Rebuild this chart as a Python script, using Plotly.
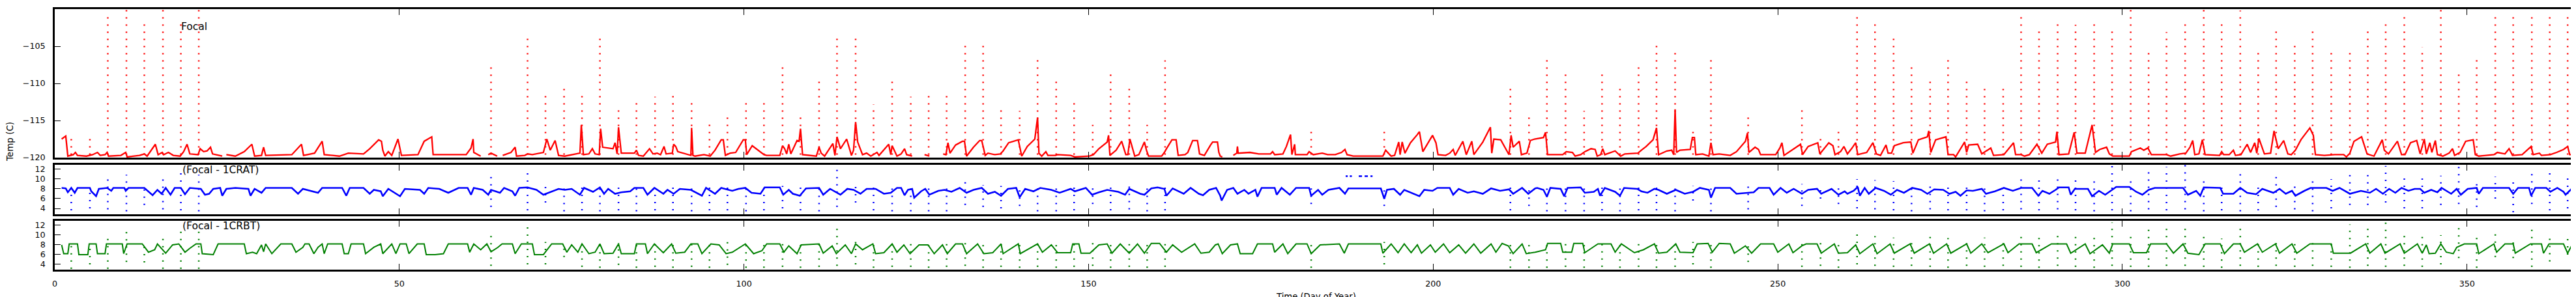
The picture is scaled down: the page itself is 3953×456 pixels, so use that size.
import plotly.graph_objects as go
from plotly.subplots import make_subplots

# Focal plane temperature (day of year, deg C)
red_readings = [
    (1.0, -117.5), (1.6, -117.1), (1.9, -119.8), (2.7, -119.6), (3.0, -119.3), (3.3, -119.7), (4.6, -119.8),
    (5.5, -119.6), (6.2, -119.3), (6.6, -119.7), (7.3, -119.6), (7.6, -119.3), (7.8, -119.8), (9.6, -119.7),
    (10.3, -119.3), (10.5, -119.9), (12.3, -119.7), (13.0, -119.5), (13.4, -119.8), (14.6, -118.2), (15.0, -119.6),
    (15.6, -119.3), (15.8, -119.6), (16.5, -119.3), (17.2, -119.7), (18.2, -119.8), (18.7, -119.2), (19.2, -118.2),
    (19.6, -119.5), (20.8, -119.6), (21.1, -118.8), (21.6, -119.2), (22.1, -119.1), (22.6, -118.6), (22.9, -119.5),
    (24.3, -119.8), (24.6, None), (24.9, -119.6), (26.2, -119.8), (27.5, -119.2), (28.6, -118.2), (29.0, -119.8),
    (30.0, -119.7), (30.3, -118.6), (30.6, -119.7), (34.4, -119.6), (35.8, -118.2), (36.1, -119.7), (37.7, -119.4),
    (38.8, -117.8), (39.1, -119.6), (41.3, -119.8), (42.6, -119.4), (44.8, -119.5), (45.7, -118.8), (47.0, -117.6),
    (47.4, -117.8), (47.6, -119.0), (47.9, -119.8), (48.4, -119.2), (48.9, -119.7), (49.8, -117.5), (50.3, -119.7),
    (52.7, -119.6), (53.6, -117.8), (54.7, -117.2), (54.9, -119.6), (57.1, -119.6), (59.7, -119.6), (60.4, -118.7),
    (60.7, -117.5), (60.8, -119.3), (61.8, -119.8), (62.3, None), (62.9, -119.6), (63.3, -119.4), (64.2, -119.8),
    (64.6, None), (65.0, -119.7), (66.2, -119.3), (66.8, -118.6), (67.0, -119.8), (68.2, -119.7), (68.6, -119.5),
    (69.3, -119.6), (70.9, -119.3), (71.4, -117.5), (71.9, -119.0), (72.6, -117.7), (73.1, -119.7), (74.0, -119.8),
    (75.0, -119.6), (76.2, -119.4), (76.4, -115.6), (76.7, -119.6), (77.5, -119.5), (78.0, -118.8), (78.4, -119.5),
    (79.0, -119.6), (79.2, -116.1), (79.5, -118.6), (81.0, -118.8), (81.3, -118.0), (81.6, -119.5), (81.8, -115.9),
    (82.2, -119.4), (84.1, -119.4), (84.4, -119.0), (84.7, -119.7), (85.4, -119.8), (86.3, -118.8), (86.8, -119.5),
    (87.4, -119.4), (87.9, -119.6), (88.4, -118.5), (88.7, -119.5), (89.6, -119.4), (89.8, -118.2), (90.1, -118.5),
    (90.4, -119.2), (91.2, -119.4), (92.3, -119.7), (92.4, -116.0), (92.6, -119.7), (92.9, -119.8), (94.2, -119.6),
    (95.1, -119.8), (95.8, -119.0), (96.7, -117.6), (97.0, -117.6), (97.3, -119.7), (98.0, -119.4), (98.8, -119.3),
    (99.9, -117.6), (100.2, -117.6), (100.4, -119.6), (101.2, -118.4), (102.4, -119.3), (102.9, -119.6), (103.3, -119.7),
    (105.2, -119.7), (105.6, -118.4), (105.9, -118.8), (106.2, -119.5), (106.5, -118.2), (106.8, -119.5), (107.7, -117.7),
    (108.0, -117.8), (108.2, -116.1), (108.5, -119.6), (110.5, -119.8), (110.9, -118.6), (111.2, -119.4), (111.7, -119.8),
    (112.9, -118.1), (113.2, -119.7), (113.5, -117.2), (114.0, -118.8), (114.9, -117.5), (115.6, -119.7), (115.9, -119.0),
    (116.2, -115.2), (116.5, -117.9), (117.2, -119.6), (117.8, -119.4), (118.4, -119.8), (119.3, -119.3), (119.6, -119.7),
    (121.0, -118.2), (121.3, -119.6), (121.5, -118.4), (122.2, -119.8), (122.8, -119.5), (123.3, -118.8), (123.6, -119.6),
    (124.4, -119.8), (125.0, None), (126.2, -119.6), (126.9, -119.8), (127.5, None), (128.9, -119.5), (129.3, -119.6),
    (129.6, -118.0), (129.9, -119.4), (130.7, -118.3), (131.7, -117.8), (132.0, -117.8), (132.3, -119.8), (133.3, -118.6),
    (134.2, -117.7), (134.5, -117.7), (135.0, -119.7), (135.4, -119.4), (136.4, -119.6), (137.2, -119.5), (137.6, -119.1),
    (138.4, -118.0), (139.8, -117.6), (140.3, -119.8), (141.1, -118.5), (142.2, -117.5), (142.6, -114.6), (142.8, -119.4),
    (143.2, -119.8), (143.8, -119.2), (144.1, -119.7), (145.2, -119.7), (145.5, -119.6), (147.4, -119.7), (148.0, -119.9),
    (150.1, -119.8), (150.7, -119.6), (151.5, -118.8), (152.7, -117.9), (152.9, -117.0), (153.1, -119.7), (154.0, -119.0),
    (154.8, -117.8), (155.4, -119.6), (155.7, -119.6), (156.0, -117.5), (156.5, -119.2), (156.7, -119.8), (157.3, -119.6),
    (158.1, -117.9), (158.4, -119.0), (158.7, -119.8), (160.6, -119.8), (161.0, -119.3), (161.3, -118.8), (162.1, -117.6),
    (162.7, -117.6), (163.0, -119.7), (164.0, -119.6), (164.4, -119.3), (165.1, -117.7), (165.8, -117.7), (166.1, -119.5),
    (166.8, -119.7), (167.7, -118.3), (168.0, -117.9), (168.7, -117.9), (168.9, -119.3), (169.1, -119.8), (169.4, -119.9),
    (170.2, None), (171.0, -119.7), (171.5, -119.4), (171.6, -118.5), (171.7, -119.4), (173.4, -119.3), (174.7, -119.5),
    (176.4, -119.5), (176.7, -119.2), (177.0, -119.6), (178.2, -119.5), (178.7, -118.5), (179.3, -116.9), (179.5, -119.6),
    (179.9, -118.2), (180.0, -119.6), (181.7, -119.6), (182.0, -119.2), (182.6, -119.6), (183.9, -119.4), (184.7, -119.6),
    (185.8, -119.6), (186.7, -119.3), (187.2, -118.9), (187.5, -119.6), (188.4, -119.8), (192.7, -119.8), (193.1, -119.0),
    (193.9, -119.8), (194.4, -119.7), (195.0, -117.9), (195.2, -119.6), (195.5, -117.9), (195.9, -119.4), (196.7, -118.0),
    (197.7, -116.9), (198.0, -116.5), (198.5, -119.2), (198.9, -118.6), (199.9, -117.0), (200.4, -118.0), (200.7, -119.6),
    (201.8, -119.7), (202.4, -119.4), (202.9, -118.9), (203.2, -119.7), (204.3, -117.8), (204.8, -119.6), (205.6, -117.8),
    (205.9, -119.6), (207.2, -117.9), (208.3, -115.9), (208.5, -119.4), (208.8, -117.5), (209.8, -117.6), (210.2, -118.3),
    (211.0, -119.6), (211.3, -117.0), (211.6, -118.6), (212.5, -117.8), (212.8, -119.6), (213.6, -119.4), (214.1, -117.7),
    (214.7, -117.5), (216.0, -117.3), (216.3, -116.6), (216.6, -119.6), (218.8, -119.6), (219.3, -119.2), (220.2, -119.3),
    (220.6, -119.8), (221.4, -119.6), (222.0, -119.2), (222.9, -118.8), (223.5, -118.9), (223.8, -119.8), (224.3, -119.6),
    (224.6, -118.8), (224.9, -119.6), (226.4, -119.1), (227.2, -119.8), (227.8, -119.5), (229.7, -119.4), (230.2, -119.0),
    (230.9, -118.5), (231.9, -117.6), (232.4, -116.0), (232.7, -119.6), (233.9, -119.1), (234.6, -119.0), (234.9, -119.6),
    (235.1, -113.5), (235.3, -119.3), (235.8, -119.0), (237.3, -118.9), (237.6, -117.3), (237.9, -117.3), (238.1, -119.6),
    (239.1, -119.5), (240.0, -119.8), (240.3, -118.0), (240.6, -119.6), (241.5, -119.5), (243.1, -119.7), (244.0, -119.2),
    (245.3, -117.8), (245.6, -116.7), (245.8, -119.3), (246.7, -118.6), (247.2, -118.9), (247.5, -119.6), (249.7, -119.6),
    (250.3, -118.7), (250.6, -118.0), (250.9, -119.7), (252.5, -118.7), (253.3, -118.2), (253.6, -119.6), (254.4, -118.5),
    (255.8, -118.0), (256.1, -119.5), (257.4, -118.0), (258.0, -118.4), (258.3, -119.6), (259.1, -119.2), (259.6, -118.5),
    (260.1, -119.5), (260.7, -118.8), (261.3, -118.0), (261.6, -119.6), (262.9, -119.3), (263.8, -118.0), (264.3, -119.5),
    (264.9, -119.7), (265.7, -118.3), (266.0, -119.4), (266.5, -119.4), (266.9, -118.4), (268.2, -118.0), (269.3, -117.9),
    (269.6, -119.4), (270.4, -117.6), (271.7, -117.2), (271.9, -116.4), (272.2, -119.3), (272.9, -117.6), (274.4, -117.2),
    (274.7, -119.6), (275.5, -119.6), (275.8, -119.9), (277.1, -117.9), (277.4, -119.3), (277.7, -118.3), (279.0, -118.2),
    (279.6, -119.5), (280.9, -118.7), (281.3, -119.7), (282.8, -119.6), (284.2, -118.0), (284.5, -119.6), (285.3, -119.6),
    (285.8, -119.8), (286.5, -119.6), (287.6, -118.2), (288.3, -119.4), (289.1, -118.2), (290.3, -117.9), (290.5, -116.5),
    (290.8, -119.6), (292.2, -119.5), (293.0, -116.6), (293.4, -119.4), (294.6, -119.4), (295.6, -115.6), (296.1, -119.3),
    (296.7, -118.9), (297.7, -118.6), (298.1, -119.5), (298.6, -119.8), (301.0, -119.8), (301.3, -119.2), (302.6, -118.7),
    (303.1, -119.0), (303.7, -118.7), (304.2, -119.6), (306.4, -119.6), (307.0, -119.8), (308.3, -119.5), (309.2, -119.4),
    (309.8, -118.6), (310.2, -117.7), (310.5, -119.6), (311.1, -119.5), (311.6, -117.6), (312.0, -119.6), (314.1, -119.7),
    (314.4, -119.2), (314.7, -119.6), (315.5, -119.6), (316.1, -119.0), (316.4, -119.7), (317.2, -119.6), (318.1, -118.2),
    (318.6, -119.3), (319.2, -118.0), (319.5, -119.4), (319.8, -117.4), (320.6, -119.5), (321.5, -119.4), (322.0, -116.4),
    (322.6, -118.8), (323.4, -117.7), (324.0, -119.5), (324.5, -119.6), (325.1, -119.0), (325.9, -117.6), (327.2, -116.0),
    (327.7, -117.0), (328.0, -119.6), (329.3, -119.7), (330.8, -119.6), (332.1, -119.6), (332.5, -119.9), (333.0, -119.4),
    (333.6, -117.8), (334.7, -117.2), (335.5, -119.5), (336.5, -119.8), (337.7, -117.6), (338.0, -119.0), (338.6, -119.5),
    (339.9, -117.8), (340.5, -119.6), (341.0, -119.6), (341.8, -118.0), (342.7, -117.7), (343.2, -119.5), (343.8, -117.5),
    (344.1, -119.5), (344.6, -118.0), (344.9, -119.3), (345.4, -117.7), (345.7, -119.6), (346.5, -119.8), (347.4, -119.4),
    (347.9, -118.8), (348.2, -119.7), (349.0, -119.3), (349.8, -117.8), (350.9, -117.6), (351.2, -119.6), (351.7, -119.8),
    (353.9, -119.6), (354.4, -119.3), (355.5, -119.5), (356.1, -118.8), (356.6, -119.7), (358.0, -119.6), (359.3, -118.5),
    (359.6, -119.6), (360.5, -119.4), (360.8, -119.7), (362.1, -119.6), (363.0, -119.3), (364.0, -118.9), (364.6, -118.5),
    (364.9, -119.6), (365.8, -119.6),
]

# warm-up events: day and peak focal temperature
spike_days = [
    2.4, 5.1, 7.7, 10.4, 13.0, 15.7, 18.3, 20.9, 63.3, 68.6, 71.2, 73.9,
    76.5, 79.1, 81.8, 84.4, 87.1, 89.7, 92.4, 95.0, 97.6, 100.3, 102.9, 105.6, 108.2, 110.9, 113.5, 116.2, 118.8, 121.5,
    124.2, 126.8, 129.4, 132.1, 134.7, 137.3, 140.0, 142.6, 145.3, 147.9, 150.6, 153.2, 155.9, 158.5, 161.1,
    182.3, 192.9, 211.2, 213.9,
    216.5, 219.2, 221.9, 224.5, 227.1, 229.8, 232.4, 235.1, 237.7, 240.3, 245.7, 253.5, 256.2, 258.8,
    261.5, 264.1, 266.8, 269.4, 272.1, 274.7, 277.4, 280.0, 282.7, 285.3, 287.9, 290.6, 293.2, 295.9, 298.5, 301.2, 303.8, 306.4,
    309.1, 311.8, 314.4, 317.1, 319.7, 322.3, 325.0, 327.6, 330.3, 333.0, 335.6, 338.2, 340.9, 343.5,
    346.2, 348.8, 351.4, 354.1, 356.7, 359.4, 362.0, 364.6,
]
spike_peaks = [
    -116.9, -117.5, -101.1, -100.0, -102.0, -100.0, -102.0, -100.0, -107.4, -103.4, -111.7, -110.6,
    -111.5, -103.4, -113.0, -112.0, -111.8, -111.1, -112.3, -114.9, -114.3, -112.3, -112.0, -107.8, -114.3, -109.6, -103.9, -103.8, -112.8, -109.7,
    -111.8, -111.5, -111.7, -104.9, -104.7, -113.3, -113.7, -106.5, -109.0, -111.9, -115.6, -108.2, -110.3, -115.6, -106.9,
    -116.3, -116.0, -110.7, -114.4,
    -106.6, -108.2, -113.7, -108.2, -110.3, -107.6, -104.6, -105.9, -116.3, -106.8, -114.1, -113.0, -117.2, -116.3,
    -100.6, -101.8, -103.6, -107.1, -109.0, -106.3, -109.1, -110.4, -110.2, -100.4, -102.6, -101.3, -102.1, -101.9, -102.6, -100.1, -105.2, -103.1,
    -102.0, -100.1, -101.4, -100.2, -105.2, -102.3, -104.4, -102.5, -105.7, -105.8, -102.3, -101.8, -100.3, -105.1,
    -100.0, -108.8, -106.8, -100.6, -100.6, -100.8, -101.1, -100.4,
]

# Focal - 1CRAT
blue_readings = [
    (1.0, 8.2), (1.6, 8.1), (1.9, 7.3), (2.4, 8.2), (2.9, 7.2), (3.3, 8.2), (5.1, 8.2), (5.3, 7.5), (6.0, 6.5), (6.4, 8.0),
    (7.6, 8.2), (8.2, 7.6), (8.5, 8.2), (10.1, 8.2), (10.3, 7.6), (10.7, 8.2), (13.0, 8.2), (13.6, 7.4), (14.2, 6.7),
    (14.9, 7.8), (15.5, 7.0), (16.1, 8.2), (16.8, 6.8), (17.4, 8.2), (18.3, 8.2), (18.9, 6.9), (19.6, 8.2), (21.2, 8.0),
    (21.8, 6.8), (22.4, 7.0), (23.0, 8.0), (24.0, 8.2), (24.3, 6.6), (24.9, 8.0), (26.2, 8.2), (28.1, 8.0), (28.4, 6.6),
    (29.0, 8.0), (30.0, 7.2), (30.6, 8.2), (34.4, 8.2), (35.3, 7.0), (36.0, 8.0), (38.2, 7.2), (38.8, 8.2), (41.7, 8.2),
    (42.3, 6.6), (42.8, 8.2), (44.8, 8.2), (45.7, 7.0), (46.3, 7.8), (47.3, 7.5), (47.6, 6.5), (48.4, 8.0), (49.5, 7.0),
    (50.1, 6.5), (50.8, 8.0), (53.0, 7.8), (53.6, 7.0), (54.2, 8.2), (55.8, 8.0), (57.1, 7.2), (58.6, 8.2), (59.9, 8.2),
    (60.4, 6.8), (60.8, 8.2), (62.1, 7.8), (62.9, 6.8), (63.3, 7.8), (64.6, 7.2), (65.2, 8.2), (66.4, 7.5), (66.8, 6.6),
    (67.4, 8.2), (68.6, 8.3), (69.9, 7.8), (70.9, 6.8), (72.1, 7.5), (73.1, 8.0), (74.0, 7.8), (75.0, 8.0), (76.2, 6.8),
    (76.8, 8.2), (78.1, 7.4), (79.1, 8.3), (79.7, 7.0), (80.3, 8.0), (81.3, 7.0), (82.2, 7.3), (83.5, 7.5), (84.1, 8.2),
    (85.4, 8.2), (86.0, 6.8), (87.0, 8.2), (88.3, 7.0), (88.9, 7.8), (89.8, 7.0), (90.7, 8.0), (92.3, 7.8), (93.9, 6.6),
    (94.5, 8.2), (95.8, 7.0), (96.7, 8.2), (98.3, 7.6), (99.2, 8.0), (100.2, 8.2), (101.1, 7.2), (102.4, 7.0), (103.0, 8.3),
    (105.2, 8.3), (105.7, 6.8), (106.5, 7.8), (107.1, 7.0), (108.1, 6.6), (109.0, 8.1), (110.9, 8.2), (111.5, 6.8),
    (112.5, 8.0), (114.0, 6.8), (115.0, 8.0), (115.9, 7.8), (116.9, 7.0), (117.8, 8.0), (119.1, 8.0), (120.3, 7.0),
    (121.3, 7.2), (122.2, 8.2), (122.8, 8.2), (123.3, 6.7), (123.8, 7.8), (124.4, 8.0), (124.7, 6.2), (125.7, 7.5),
    (126.3, 8.0), (126.9, 6.8), (128.2, 7.6), (129.1, 7.8), (130.1, 7.4), (131.3, 8.2), (132.3, 7.2), (133.3, 7.8),
    (134.5, 8.2), (135.4, 7.0), (136.4, 7.4), (137.3, 6.6), (138.3, 8.0), (139.5, 8.2), (140.0, 6.3), (140.8, 8.0),
    (142.0, 7.5), (143.0, 8.2), (144.6, 7.8), (145.8, 7.2), (147.4, 8.0), (148.0, 7.5), (149.6, 8.2), (150.5, 6.8),
    (151.5, 7.3), (152.7, 7.8), (154.3, 7.4), (155.3, 6.8), (155.9, 8.0), (157.5, 7.0), (158.1, 6.8), (159.1, 8.1),
    (160.0, 8.3), (161.0, 8.0), (161.3, 6.6), (162.2, 8.1), (163.8, 7.0), (164.8, 8.2), (166.0, 7.0), (166.6, 6.7),
    (167.5, 7.8), (168.5, 8.2), (169.1, 6.6), (169.3, 5.6), (170.1, 7.8), (171.0, 8.2), (171.6, 7.0), (172.6, 7.8),
    (173.2, 7.0), (174.2, 7.8), (174.5, 6.4), (175.1, 8.2), (177.0, 8.2), (177.3, 6.8), (178.0, 8.2), (179.2, 6.8),
    (180.1, 8.2), (182.0, 8.2), (182.3, 6.6), (183.3, 7.8), (183.9, 6.8), (184.8, 7.8), (186.4, 8.2), (187.2, 7.0),
    (187.7, 8.1), (192.4, 8.1), (192.9, 6.0), (193.3, 7.8), (194.3, 8.0), (195.2, 6.8), (195.8, 7.8), (196.8, 7.2),
    (198.0, 6.5), (198.7, 7.8), (199.9, 7.6), (200.6, 8.2), (202.4, 8.2), (202.9, 6.8), (203.7, 8.0), (205.0, 7.2),
    (205.9, 7.5), (207.2, 7.0), (208.4, 8.1), (209.7, 7.6), (211.0, 7.9), (211.6, 7.0), (212.9, 8.2), (213.8, 7.0),
    (214.8, 8.1), (215.1, 8.2), (216.0, 7.8), (216.5, 6.4), (217.0, 8.2), (218.5, 8.0), (219.0, 6.5), (219.5, 8.2),
    (221.4, 8.3), (222.0, 7.2), (223.3, 7.4), (223.9, 8.0), (224.2, 6.6), (224.9, 8.2), (226.4, 7.4), (227.1, 6.6),
    (227.7, 8.2), (229.6, 8.0), (230.2, 7.5), (231.1, 7.2), (232.1, 8.0), (232.7, 7.8), (233.9, 7.0), (235.2, 7.8),
    (236.5, 7.0), (237.7, 7.4), (238.7, 8.2), (240.0, 7.8), (240.3, 6.2), (240.9, 8.2), (243.1, 8.2), (244.0, 7.0),
    (245.3, 7.2), (246.5, 7.3), (247.2, 8.2), (248.8, 8.2), (249.4, 6.8), (250.4, 8.2), (251.3, 7.2), (252.3, 8.0),
    (253.5, 7.0), (254.4, 7.8), (255.7, 8.0), (256.3, 7.0), (257.8, 8.0), (258.8, 6.8), (259.7, 7.5), (260.1, 7.0),
    (261.0, 7.6), (261.6, 8.4), (261.9, 6.6), (262.6, 8.2), (263.2, 7.0), (264.2, 8.2), (265.4, 7.6), (266.4, 6.8),
    (267.3, 7.8), (268.3, 7.2), (269.5, 8.2), (270.8, 7.8), (271.7, 7.0), (272.7, 7.9), (274.0, 7.8), (274.9, 7.0),
    (275.8, 7.4), (276.5, 6.6), (277.4, 7.7), (278.3, 7.6), (279.6, 8.0), (280.2, 7.0), (281.5, 7.5), (282.8, 8.2),
    (284.1, 7.6), (285.3, 8.2), (286.9, 8.2), (287.8, 6.6), (288.4, 7.6), (289.4, 7.0), (290.3, 7.8), (290.8, 8.3),
    (292.2, 8.3), (292.5, 6.8), (293.1, 8.0), (295.0, 8.0), (295.6, 6.5), (296.6, 7.6), (297.5, 6.8), (298.5, 7.8),
    (299.1, 8.4), (301.0, 8.4), (302.0, 7.4), (302.9, 6.8), (303.8, 7.8), (304.7, 8.2), (308.8, 8.2), (309.5, 6.8),
    (310.7, 7.6), (311.3, 6.6), (311.8, 8.3), (314.2, 8.2), (314.6, 7.0), (316.1, 7.0), (317.1, 8.2), (318.1, 7.2),
    (319.4, 6.9), (320.3, 8.0), (321.9, 7.2), (322.8, 8.0), (323.7, 7.0), (324.6, 7.6), (325.1, 6.6), (326.4, 7.6),
    (327.3, 8.2), (329.6, 8.2), (330.5, 7.6), (331.5, 8.2), (333.0, 7.0), (334.6, 7.6), (335.9, 7.2), (336.8, 8.0),
    (337.8, 7.0), (338.7, 8.0), (339.6, 7.2), (340.5, 8.2), (341.5, 7.6), (342.4, 8.0), (343.2, 8.0), (343.8, 7.2),
    (344.8, 7.8), (345.7, 7.3), (346.3, 8.2), (347.7, 7.0), (348.5, 8.0), (349.1, 6.8), (350.1, 8.0), (351.4, 8.2),
    (351.7, 7.0), (352.3, 8.2), (356.1, 8.2), (356.7, 7.0), (357.4, 8.2), (359.0, 8.2), (359.3, 6.6), (359.9, 8.2),
    (361.5, 8.2), (362.1, 7.4), (363.1, 8.2), (364.0, 7.4), (364.3, 6.8), (365.3, 8.2), (365.9, 8.2),
]
blue_spike_low = [
    3.6, 4.0, 3.8, 3.4, 4.7, 3.8, 3.6, 3.4, 4.3, 3.6, 5.2, 3.4,
    3.6, 3.4, 3.6, 3.4, 3.6, 3.6, 3.4, 3.6, 3.6, 3.4, 3.6, 4.0, 3.6, 3.4, 4.3, 5.2, 3.6, 3.4,
    3.4, 3.4, 3.4, 4.7, 4.3, 4.0, 4.5, 3.4, 3.4, 3.6, 4.9, 3.6, 3.8, 3.4, 3.6,
    4.9, 4.5, 3.6, 4.5,
    3.4, 3.4, 3.4, 3.6, 3.4, 3.6, 3.6, 3.4, 5.6, 3.4, 3.8, 4.5, 6.0, 4.9,
    4.0, 3.8, 3.6, 3.4, 3.8, 3.6, 3.6, 3.4, 3.6, 3.8, 3.6, 3.8, 3.6, 3.4, 3.6, 3.4, 3.8, 3.6,
    3.8, 3.4, 3.6, 3.4, 3.6, 4.3, 3.8, 3.4, 4.0, 4.7, 4.7, 5.2, 4.0, 4.0,
    4.7, 4.9, 4.3, 6.0, 3.2, 4.9, 3.6, 4.0,
]
blue_spike_high = [
    8.4, 8.4, 10.3, 10.9, 8.8, 10.7, 11.8, 10.9, 10.6, 11.6, 8.4, 8.4,
    8.6, 8.6, 8.6, 8.6, 8.6, 8.6, 8.6, 8.6, 8.6, 8.8, 8.6, 8.6, 8.6, 8.8, 11.9, 8.6, 8.6, 8.8,
    8.6, 8.8, 8.6, 9.4, 8.8, 8.6, 8.8, 9.0, 8.8, 8.6, 8.8, 8.8, 8.6, 8.8, 8.8,
    8.6, 8.6, 8.8, 8.8,
    8.8, 8.8, 8.6, 9.0, 9.0, 9.2, 9.4, 9.2, 8.6, 9.0, 8.8, 9.0, 8.6, 8.8,
    10.0, 9.8, 9.6, 8.9, 9.4, 8.9, 8.7, 8.7, 8.5, 10.0, 9.8, 10.0, 10.0, 10.0, 12.7, 10.7, 12.3, 12.5,
    12.9, 10.5, 8.5, 12.0, 8.5, 10.7, 8.7, 9.8, 10.0, 10.9, 12.0, 12.7, 10.7, 10.5,
    10.7, 12.5, 9.8, 10.5, 10.0, 12.0, 11.2, 10.7,
]
# short stretch of readings sitting above the main trace around day 188-191
blue_upper_days = [187.3, 187.6, None, 187.9, 188.2, None, 189.2, 191.2]
blue_upper_vals = [10.6, 10.6, None, 10.6, 10.6, None, 10.6, 10.6]

# Focal - 1CRBT
green_readings = [
    (1.0, 8.0), (1.3, 6.2), (1.9, 6.2), (2.1, 8.2), (3.3, 8.2), (3.5, 6.0), (4.8, 6.0), (5.0, 8.2), (6.0, 8.2), (6.2, 6.2),
    (7.3, 6.2), (7.5, 8.2), (9.8, 8.2), (10.0, 6.2), (10.5, 8.2), (12.7, 8.2), (13.6, 6.5), (14.5, 7.0), (14.9, 8.2),
    (16.1, 6.3), (17.1, 8.0), (18.0, 8.2), (18.9, 6.5), (19.6, 7.3), (20.5, 8.2), (21.2, 8.2), (21.4, 6.2), (23.0, 6.0),
    (23.7, 8.2), (27.5, 8.2), (27.8, 6.2), (28.7, 6.5), (29.3, 6.2), (30.0, 8.0), (30.3, 6.6), (30.6, 8.2), (31.5, 6.2),
    (32.8, 8.2), (34.4, 8.2), (35.0, 6.5), (36.0, 7.5), (36.3, 8.2), (36.9, 8.2), (37.6, 6.2), (38.2, 7.5), (38.8, 8.2),
    (39.1, 6.2), (39.6, 8.2), (41.7, 8.2), (42.0, 6.2), (42.6, 6.2), (43.0, 8.2), (44.8, 8.2), (45.1, 6.2), (46.3, 7.5),
    (47.3, 8.2), (47.6, 6.2), (48.9, 8.2), (49.5, 6.2), (50.1, 8.2), (51.0, 8.2), (51.4, 6.2), (52.6, 8.2), (53.6, 8.2),
    (53.9, 6.0), (55.2, 6.0), (56.4, 6.2), (57.1, 8.2), (59.9, 8.2), (60.2, 6.5), (60.8, 8.2), (61.8, 7.0), (62.7, 8.2),
    (63.3, 6.6), (64.3, 7.5), (64.9, 8.2), (66.4, 8.2), (66.8, 6.2), (67.7, 8.2), (69.3, 8.2), (69.6, 6.0), (70.9, 6.0),
    (72.1, 8.2), (73.7, 8.2), (74.3, 6.5), (75.0, 8.0), (75.9, 6.5), (76.5, 8.2), (77.5, 6.2), (78.4, 6.5), (79.1, 8.2),
    (79.7, 6.2), (81.0, 6.3), (81.8, 8.2), (82.2, 6.2), (84.1, 6.2), (84.4, 8.2), (85.7, 8.2), (86.0, 6.2), (87.0, 8.2),
    (88.3, 6.4), (89.5, 8.2), (90.1, 6.3), (91.4, 6.5), (92.3, 8.2), (93.3, 8.2), (93.9, 6.2), (95.2, 8.2), (96.4, 8.0),
    (97.4, 6.2), (98.3, 6.5), (100.2, 8.2), (101.4, 6.2), (102.6, 6.8), (103.3, 8.2), (105.2, 8.2), (105.8, 6.5),
    (106.5, 7.8), (107.7, 6.2), (108.3, 8.0), (110.9, 8.2), (111.5, 6.3), (112.8, 7.8), (113.4, 6.2), (114.7, 8.0),
    (115.6, 6.2), (116.2, 8.2), (117.2, 7.0), (118.7, 8.2), (119.1, 6.2), (120.3, 6.4), (121.5, 8.2), (122.2, 6.5),
    (123.2, 8.0), (124.1, 6.2), (125.4, 8.0), (126.7, 8.0), (127.6, 6.2), (128.8, 8.0), (129.5, 6.2), (130.7, 8.2),
    (131.7, 8.2), (132.3, 6.2), (133.9, 8.2), (134.8, 6.2), (136.1, 6.4), (137.3, 8.2), (137.6, 6.2), (139.8, 8.2),
    (140.1, 6.2), (142.6, 8.2), (143.3, 6.5), (144.6, 8.0), (145.5, 6.4), (147.4, 6.4), (147.7, 8.2), (148.6, 8.2),
    (148.9, 6.3), (150.2, 6.3), (151.5, 8.0), (152.7, 8.2), (153.4, 6.3), (154.6, 8.2), (155.9, 6.3), (157.1, 8.2),
    (158.1, 6.3), (159.1, 8.3), (160.3, 8.3), (161.3, 6.5), (162.2, 8.0), (163.5, 6.5), (165.4, 8.2), (166.3, 6.3),
    (167.5, 6.5), (168.4, 8.0), (168.8, 8.2), (169.4, 6.2), (170.6, 8.0), (171.6, 8.2), (172.0, 6.2), (173.8, 6.2),
    (174.5, 8.2), (176.7, 8.2), (177.0, 6.5), (178.2, 8.2), (178.9, 6.2), (180.1, 8.2), (181.7, 8.2), (182.3, 6.2),
    (183.6, 8.0), (186.4, 8.2), (187.1, 6.3), (187.7, 8.2), (192.4, 8.2), (192.7, 6.3), (193.9, 8.2), (194.9, 6.4),
    (195.8, 8.2), (196.8, 6.4), (197.7, 8.0), (198.3, 6.3), (199.6, 8.0), (200.3, 6.5), (201.5, 8.2), (202.4, 6.4),
    (203.7, 8.0), (204.7, 6.3), (205.9, 8.2), (206.9, 6.3), (208.4, 8.2), (209.1, 6.5), (210.0, 8.3), (210.9, 7.8),
    (211.6, 6.2), (212.9, 8.2), (213.5, 6.2), (214.8, 6.5), (216.3, 7.0), (216.6, 8.3), (218.5, 8.3), (218.8, 6.5),
    (220.1, 6.5), (220.4, 8.3), (221.7, 8.3), (222.0, 6.4), (223.9, 8.2), (225.8, 8.2), (226.4, 6.5), (227.3, 8.2),
    (229.2, 6.4), (230.5, 7.0), (232.1, 8.2), (232.7, 6.3), (233.9, 6.5), (235.2, 8.2), (235.8, 6.5), (237.7, 6.4),
    (238.3, 8.2), (239.9, 8.3), (240.5, 6.5), (241.5, 8.3), (243.1, 8.2), (243.7, 6.3), (245.3, 7.8), (246.2, 6.3),
    (247.5, 8.2), (249.4, 8.2), (250.0, 6.5), (251.6, 8.2), (252.2, 6.4), (253.5, 7.8), (254.1, 8.2), (255.7, 8.2),
    (256.3, 6.3), (258.2, 8.2), (258.8, 6.3), (260.1, 6.4), (261.3, 8.0), (261.9, 6.2), (263.8, 8.2), (264.4, 6.2),
    (266.3, 8.2), (266.9, 6.3), (269.2, 8.2), (269.8, 6.3), (272.0, 8.2), (272.6, 6.3), (274.5, 8.2), (275.1, 6.3),
    (277.4, 8.2), (278.0, 6.3), (279.6, 8.2), (280.5, 6.4), (282.8, 8.2), (283.4, 6.4), (285.0, 8.2), (286.9, 8.2),
    (287.5, 6.4), (289.7, 8.2), (291.9, 8.2), (292.5, 6.3), (294.6, 8.2), (295.3, 6.2), (297.1, 8.0), (298.1, 6.3),
    (298.6, 8.2), (301.0, 8.2), (301.6, 6.4), (303.5, 6.4), (304.1, 8.2), (306.4, 8.2), (307.4, 6.3), (308.8, 8.2),
    (309.5, 6.3), (311.1, 6.0), (312.0, 8.2), (314.2, 8.2), (314.8, 6.2), (316.1, 8.2), (317.1, 8.2), (317.7, 6.5),
    (319.6, 8.2), (320.3, 6.5), (322.2, 8.2), (322.8, 6.3), (324.6, 8.2), (325.3, 6.3), (327.2, 8.2), (330.3, 8.2),
    (330.6, 6.3), (333.1, 6.3), (335.3, 8.2), (335.9, 6.3), (337.5, 8.2), (338.1, 6.3), (340.3, 8.2), (340.9, 6.3),
    (342.8, 8.2), (343.5, 6.3), (344.1, 8.0), (344.5, 6.2), (345.4, 6.3), (346.2, 8.2), (347.0, 6.5), (348.0, 6.2),
    (348.5, 7.5), (349.6, 8.2), (351.4, 8.2), (351.7, 6.2), (353.9, 8.2), (354.3, 6.5), (355.5, 8.2), (356.7, 8.2),
    (357.0, 6.3), (359.2, 8.2), (360.8, 8.2), (361.1, 6.3), (361.9, 8.2), (364.0, 8.2), (364.6, 6.3), (365.3, 8.2),
    (365.9, 8.2),
]
green_spike_low = [
    3.1, 4.0, 3.1, 4.5, 4.4, 3.1, 3.1, 3.1, 3.7, 4.0, 4.0, 5.5,
    3.5, 3.3, 3.9, 3.3, 3.5, 3.3, 3.5, 3.3, 3.9, 3.3, 3.3, 3.5, 3.3, 3.5, 3.7, 4.0, 3.3, 3.5,
    3.5, 3.3, 3.5, 3.7, 3.3, 3.5, 3.3, 3.5, 3.3, 3.5, 3.7, 3.3, 3.5, 3.3, 3.5,
    3.3, 4.0, 3.3, 3.3,
    3.3, 3.5, 3.3, 3.5, 3.3, 3.5, 3.3, 3.5, 4.0, 3.3, 4.5, 3.5, 3.7, 3.3,
    4.0, 3.7, 3.5, 3.7, 3.5, 3.3, 3.7, 3.5, 3.7, 3.5, 3.3, 3.7, 3.5, 3.3, 3.7, 3.5, 3.5, 3.7,
    3.7, 3.5, 3.3, 3.7, 3.5, 3.7, 3.5, 3.7, 3.5, 3.3, 3.7, 3.5, 3.7, 3.5,
    4.0, 5.3, 3.3, 5.5, 5.3, 3.5, 4.6, 6.0,
]
green_spike_high = [
    8.4, 8.4, 10.2, 10.8, 8.6, 10.2, 11.7, 10.8, 10.6, 11.7, 8.6, 8.4,
    8.4, 8.6, 8.4, 8.4, 8.4, 8.6, 8.4, 8.4, 8.6, 8.4, 8.4, 8.6, 8.4, 8.6, 12.0, 8.6, 8.4, 8.6,
    8.6, 8.4, 8.6, 8.8, 8.6, 8.4, 8.6, 8.8, 8.6, 8.4, 8.6, 8.6, 8.4, 8.6, 8.6,
    8.4, 8.6, 8.6, 8.6,
    9.0, 8.8, 8.6, 9.0, 9.0, 9.2, 9.0, 9.2, 8.6, 9.0, 8.8, 9.0, 8.6, 8.8,
    10.2, 9.8, 9.5, 9.3, 9.8, 9.4, 9.3, 9.5, 9.2, 10.2, 9.9, 10.0, 10.1, 9.9, 12.6, 10.8, 12.2, 12.0,
    11.7, 10.6, 9.3, 11.5, 9.1, 9.3, 9.1, 9.3, 8.6, 12.2, 12.0, 12.6, 10.2, 9.8,
    10.0, 12.5, 9.8, 10.2, 9.5, 12.0, 10.2, 10.4,
]

x_ticks = [0, 50, 100, 150, 200, 250, 300, 350]
temp_ticks = [-120, -115, -110, -105, -100]
temp_tick_text = ["\u2212120", "\u2212115", "\u2212110", "\u2212105", "\u2212100"]
diff_ticks = [4, 6, 8, 10, 12]

n = len(spike_days)
assert all(len(a) == n for a in [spike_peaks, blue_spike_low, blue_spike_high, green_spike_low, green_spike_high])

FONT = "DejaVu Sans"
RED, BLUE, GREEN = "#ff0000", "#0000ff", "#008000"


def vertical_runs(days, lows, highs):
    xs, ys = [], []
    for d, lo, hi in zip(days, lows, highs):
        xs += [d, d, None]
        ys += [lo, hi, None]
    return xs, ys


fig = make_subplots(rows=3, cols=1, shared_xaxes=True)

# top: focal temperature
fig.add_trace(go.Scatter(x=[p[0] for p in red_readings], y=[p[1] for p in red_readings],
                         mode="lines", line=dict(color=RED, width=2.3), connectgaps=False),
              row=1, col=1)
sx, sy = vertical_runs(spike_days, [-119.6] * n, spike_peaks)
fig.add_trace(go.Scatter(x=sx, y=sy, mode="lines",
                         line=dict(color=RED, width=2.5, dash="2px,9px")), row=1, col=1)

# middle: Focal - 1CRAT
fig.add_trace(go.Scatter(x=[p[0] for p in blue_readings], y=[p[1] for p in blue_readings],
                         mode="lines", line=dict(color=BLUE, width=2.6)), row=2, col=1)
bx, by = vertical_runs(spike_days, blue_spike_low, blue_spike_high)
fig.add_trace(go.Scatter(x=bx, y=by, mode="lines",
                         line=dict(color=BLUE, width=2.5, dash="2px,9px")), row=2, col=1)
fig.add_trace(go.Scatter(x=blue_upper_days, y=blue_upper_vals, mode="lines",
                         line=dict(color=BLUE, width=2.5, dash="5px,4px")), row=2, col=1)

# bottom: Focal - 1CRBT
fig.add_trace(go.Scatter(x=[p[0] for p in green_readings], y=[p[1] for p in green_readings],
                         mode="lines", line=dict(color=GREEN, width=2.0)), row=3, col=1)
gx, gy = vertical_runs(spike_days, green_spike_low, green_spike_high)
fig.add_trace(go.Scatter(x=gx, y=gy, mode="lines",
                         line=dict(color=GREEN, width=2.5, dash="2px,9px")), row=3, col=1)

axis_style = dict(showline=True, linewidth=2.5, linecolor="black", mirror="ticks",
                  ticks="inside", ticklen=9, tickwidth=1.3, tickcolor="black",
                  showgrid=False, zeroline=False,
                  tickfont=dict(family=FONT, size=12.7, color="black"))

for i in (1, 2, 3):
    fig.update_xaxes(range=[0, 366], tickvals=x_ticks, showticklabels=(i == 3),
                     ticklabelstandoff=8, row=i, col=1, **axis_style)

fig.update_yaxes(range=[-120, -100], tickvals=temp_ticks, ticktext=temp_tick_text,
                 ticklabelstandoff=9, row=1, col=1, **axis_style)
fig.update_yaxes(range=[2.8, 12.93], tickvals=diff_ticks, ticklabelstandoff=9, row=2, col=1, **axis_style)
fig.update_yaxes(range=[2.93, 12.93], tickvals=diff_ticks, ticklabelstandoff=9, row=3, col=1, **axis_style)

fig.update_layout(
    width=3953, height=456,
    margin=dict(l=76, r=3, t=6, b=50),
    paper_bgcolor="white", plot_bgcolor="white",
    showlegend=False,
    font=dict(family=FONT, color="black"),
    yaxis=dict(domain=[0.43, 1.0]),
    yaxis2=dict(domain=[0.2125, 0.4025]),
    yaxis3=dict(domain=[0.0, 0.1875]),
)

label_font = dict(family=FONT, size=15.5, color="black")
fig.add_annotation(x=18.2, y=-102.4, xref="x", yref="y", text="Focal", showarrow=False,
                   xanchor="left", yanchor="middle", font=label_font)
fig.add_annotation(x=18.3, y=11.9, xref="x2", yref="y2", text="(Focal - 1CRAT)", showarrow=False,
                   xanchor="left", yanchor="middle", font=label_font)
fig.add_annotation(x=18.3, y=11.9, xref="x3", yref="y3", text="(Focal - 1CRBT)", showarrow=False,
                   xanchor="left", yanchor="middle", font=label_font)
fig.add_annotation(x=-0.0178, y=0.49, xref="paper", yref="paper", text="Temp (C)", showarrow=False,
                   textangle=-90, xanchor="center", yanchor="middle",
                   font=dict(family=FONT, size=13.5, color="black"))
fig.add_annotation(x=0.5, y=-0.083, xref="paper", yref="paper", text="Time (Day of Year)", showarrow=False,
                   xanchor="center", yanchor="top", borderpad=0,
                   font=dict(family=FONT, size=13.2, color="black"))

fig.write_html("out.html")
